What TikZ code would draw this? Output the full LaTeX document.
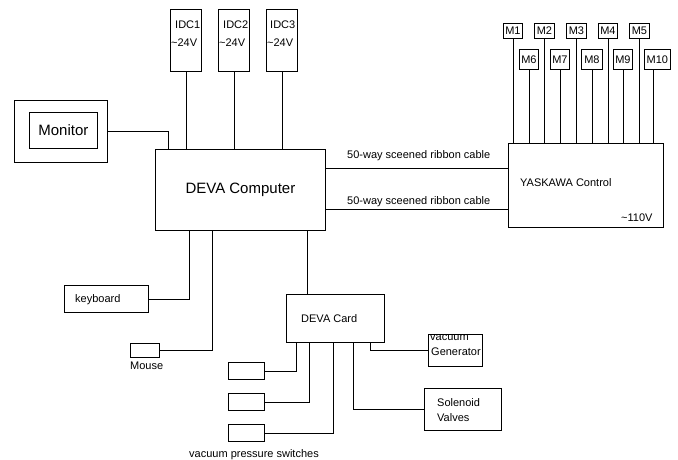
\documentclass[tikz,border=0pt]{standalone}
\usepackage{fontspec}
\setmainfont{Liberation Sans}
\begin{document}
\begin{tikzpicture}[x=1pt,y=-1pt,
  box/.style={draw,line width=0.8pt,inner sep=0pt,anchor=north west,font=\fontsize{11}{13}\selectfont},
  txt/.style={inner sep=0pt,anchor=base west,font=\fontsize{11}{13}\selectfont},
  big/.style={font=\fontsize{15}{18}\selectfont},
  wire/.style={line width=0.8pt}]
\useasboundingbox (0,0) rectangle (678,460);

% IDC supplies
\node[box,minimum width=31pt,minimum height=62pt] (idc1) at (170,9) {};
\node[box,minimum width=31pt,minimum height=62pt] (idc2) at (218,9) {};
\node[box,minimum width=31pt,minimum height=62pt] (idc3) at (266,9) {};
\node[txt] (idc1a) at (175,29) {IDC1};
\node[txt] (idc1b) at (171,46.5) {\char"007E 24V};
\node[txt] (idc2a) at (223,29) {IDC2};
\node[txt] (idc2b) at (219,46.5) {\char"007E 24V};
\node[txt] (idc3a) at (270,29) {IDC3};
\node[txt] (idc3b) at (267,46.5) {\char"007E 24V};

% Monitor
\node[box,minimum width=93pt,minimum height=62pt] (monout) at (14,100) {};
\node[box,big,minimum width=68pt,minimum height=36pt] (monin) at (29,112) {Monitor};

% Computer
\node[box,big,minimum width=170pt,minimum height=81pt] (comp) at (155,149) {DEVA Computer};

% Yaskawa
\node[box,minimum width=155pt,minimum height=84pt] (yask) at (508,143) {};
\node[txt] (yasktxt) at (520,186) {YASKAWA Control};
\node[txt] (yaskv) at (621,221) {\char"007E 110V};

% Motors
\node[box,minimum width=19pt,minimum height=15pt] (m1) at (503,23) {M1};
\node[box,minimum width=20pt,minimum height=15pt] (m2) at (534,23) {M2};
\node[box,minimum width=20pt,minimum height=15pt] (m3) at (566,23) {M3};
\node[box,minimum width=19pt,minimum height=15pt] (m4) at (598,23) {M4};
\node[box,minimum width=20pt,minimum height=15pt] (m5) at (629,23) {M5};
\node[box,minimum width=19pt,minimum height=20pt] (m6) at (519,49) {M6};
\node[box,minimum width=19pt,minimum height=20pt] (m7) at (550,49) {M7};
\node[box,minimum width=21pt,minimum height=20pt] (m8) at (581,49) {M8};
\node[box,minimum width=19pt,minimum height=20pt] (m9) at (613,49) {M9};
\node[box,minimum width=26pt,minimum height=20pt] (m10) at (644,49) {M10};

% cables labels
\node[txt] (cab1) at (347,158) {50-way sceened ribbon cable};
\node[txt] (cab2) at (347,204) {50-way sceened ribbon cable};

% keyboard, mouse
\node[box,minimum width=84pt,minimum height=27pt] (kb) at (64,285) {};
\node[txt] (kbtxt) at (75,302) {keyboard};
\node[box,minimum width=29pt,minimum height=14pt] (mouse) at (130,343) {};
\node[txt] (mousetxt) at (130,369) {Mouse};

% DEVA card
\node[box,minimum width=98pt,minimum height=48pt] (card) at (286,294) {};
\node[txt] (cardtxt) at (301,322) {DEVA Card};

% vacuum pressure switches
\node[box,minimum width=36pt,minimum height=17pt] (vps1) at (228,362) {};
\node[box,minimum width=36pt,minimum height=17pt] (vps2) at (228,393) {};
\node[box,minimum width=36pt,minimum height=17pt] (vps3) at (228,424) {};
\node[txt] (vpstxt) at (189,457) {vacuum pressure switches};

% vacuum generator
\node[box,minimum width=54pt,minimum height=32pt] (vg) at (428,334) {};
\begin{scope}
  \clip (vg.north west) rectangle (vg.south east);
  \node[txt] (vgtxt1) at (430,340) {vacuum};
  \node[txt] (vgtxt2) at (431,355) {Generator};
\end{scope}

% solenoid valves
\node[box,minimum width=77pt,minimum height=42pt] (sol) at (424,388) {};
\node[txt] (soltxt1) at (437,406) {Solenoid};
\node[txt] (soltxt2) at (437,421) {Valves};

% connectors
\draw[wire] (monout.east) -| ([xshift=13pt]comp.north west);
\foreach \n in {idc1,idc2,idc3}
  \draw[wire] (\n.south) -- (\n.south |- comp.north);
\foreach \n in {m1,m2,m3,m4,m5,m6,m7,m8,m9}
  \draw[wire] (\n.south) -- (\n.south |- yask.north);
\draw[wire] ([xshift=-4pt]m10.south) coordinate (m10s) -- (m10s |- yask.north);
\draw[wire] ([yshift=-19pt]comp.north east) coordinate (c1) -- (c1 -| yask.west);
\draw[wire] ([yshift=-60pt]comp.north east) coordinate (c2) -- (c2 -| yask.west);
\draw[wire] (kb.east) -| ([xshift=34pt]comp.south west);
\draw[wire] (mouse.east) -| ([xshift=57pt]comp.south west);
\draw[wire] ([xshift=152pt]comp.south west) coordinate (c3) -- (c3 |- card.north);
\draw[wire] (vps1.east) -| ([xshift=10pt]card.south west);
\draw[wire] (vps2.east) -| ([xshift=23pt]card.south west);
\draw[wire] (vps3.east) -| ([xshift=47pt]card.south west);
\draw[wire] (sol.west) -| ([xshift=67pt]card.south west);
\draw[wire] (vg.west) -| ([xshift=84pt]card.south west);
\end{tikzpicture}
\end{document}
